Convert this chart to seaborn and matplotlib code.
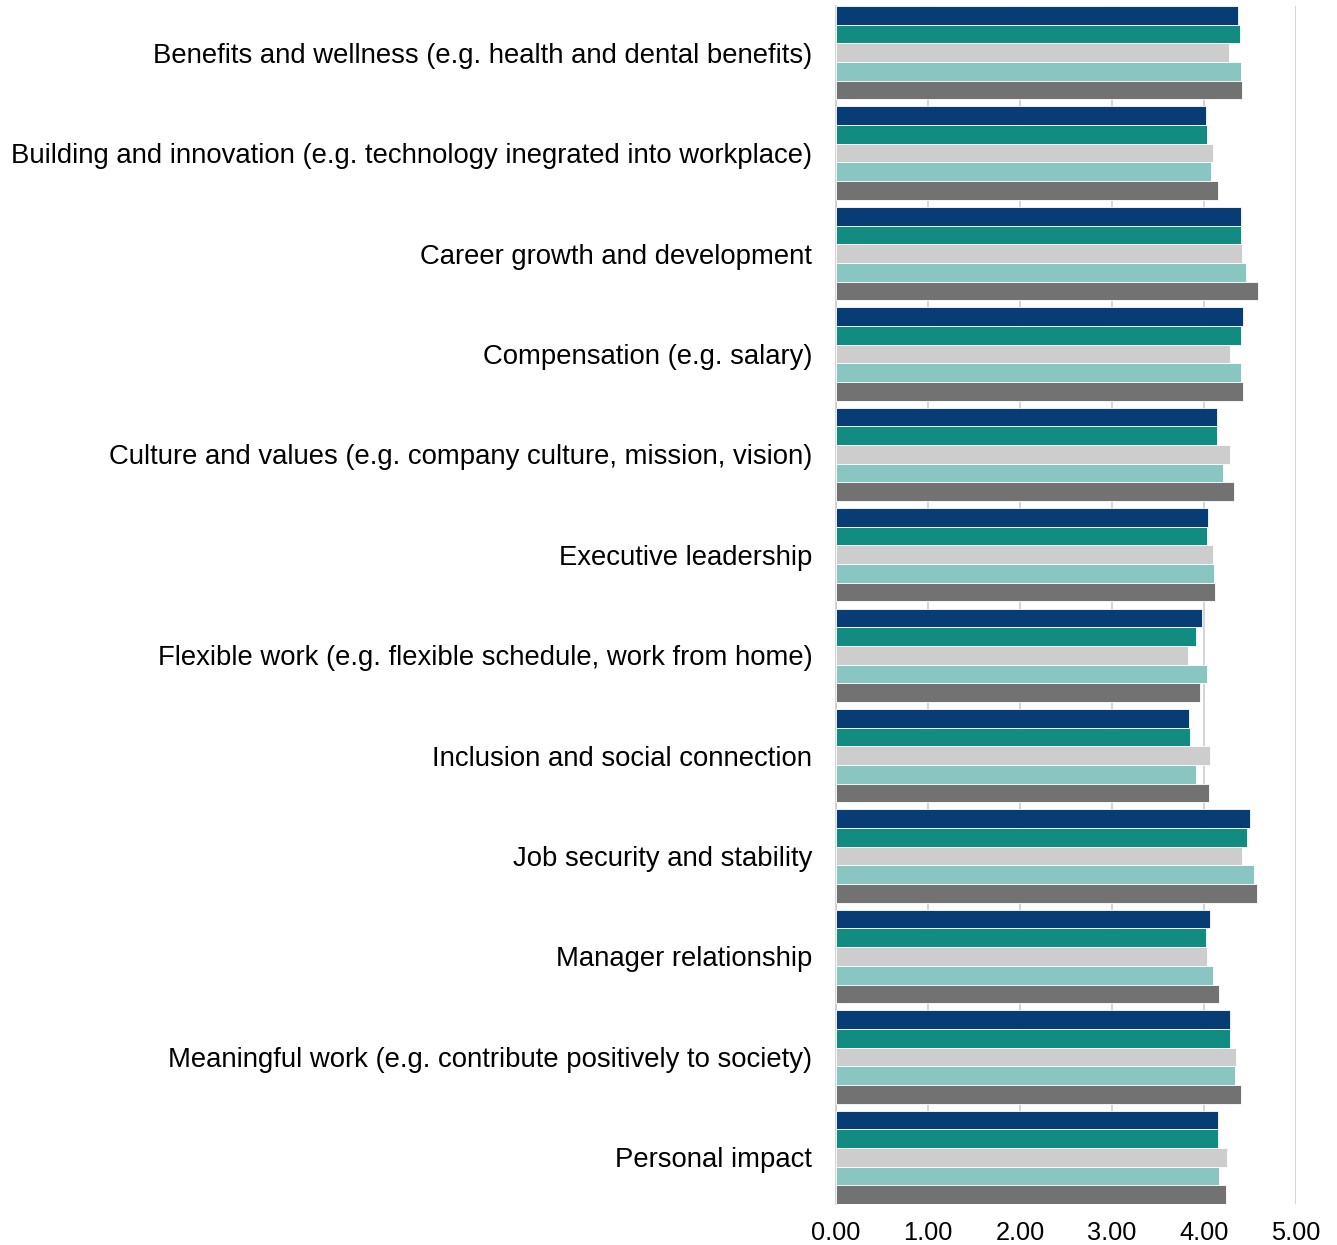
import matplotlib
matplotlib.use("Agg")
import matplotlib.pyplot as plt
import seaborn as sns
import pandas as pd

categories = [
    "Benefits and wellness (e.g. health and dental benefits)",
    "Building and innovation (e.g. technology inegrated into workplace)",
    "Career growth and development",
    "Compensation (e.g. salary)",
    "Culture and values (e.g. company culture, mission, vision)",
    "Executive leadership",
    "Flexible work (e.g. flexible schedule, work from home)",
    "Inclusion and social connection",
    "Job security and stability",
    "Manager relationship",
    "Meaningful work (e.g. contribute positively to society)",
    "Personal impact",
]

series_names = ["Series 1", "Series 2", "Series 3", "Series 4", "Series 5"]

series_1 = [4.37, 4.02, 4.41, 4.43, 4.14, 4.05, 3.98, 3.84, 4.50, 4.07, 4.29, 4.15]
series_2 = [4.39, 4.03, 4.40, 4.41, 4.14, 4.04, 3.92, 3.85, 4.47, 4.02, 4.29, 4.15]
series_3 = [4.28, 4.10, 4.42, 4.29, 4.29, 4.10, 3.83, 4.07, 4.42, 4.03, 4.35, 4.25]
series_4 = [4.40, 4.08, 4.46, 4.41, 4.21, 4.11, 4.04, 3.92, 4.55, 4.10, 4.34, 4.17]
series_5 = [4.42, 4.15, 4.59, 4.43, 4.33, 4.12, 3.96, 4.06, 4.58, 4.17, 4.40, 4.24]

x_ticks = [0, 1, 2, 3, 4, 5]
x_tick_labels = ["0.00", "1.00", "2.00", "3.00", "4.00", "5.00"]

palette = ["#083C74", "#128B80", "#CDCDCD", "#89C6C1", "#727272"]

rows = []
for name, vals in zip(series_names, [series_1, series_2, series_3, series_4, series_5]):
    for cat, v in zip(categories, vals):
        rows.append({"category": cat, "series": name, "score": v})
df = pd.DataFrame(rows)

sns.set_theme(style="white")
plt.rcParams["font.family"] = ["Liberation Sans", "DejaVu Sans"]

fig = plt.figure(figsize=(13.37, 12.45), dpi=100)
ax = fig.add_axes([0.6253, 0.0329, 0.9691 - 0.6253, 0.9952 - 0.0329])

bar_width = 0.93
sns.barplot(
    data=df, y="category", x="score", hue="series",
    order=categories, hue_order=series_names, palette=palette,
    saturation=1, orient="h", width=bar_width, dodge=True, errorbar=None,
    edgecolor="white", linewidth=0.6, legend=False, ax=ax, zorder=3,
)

ax.set_xlim(0, 5)
ax.set_ylim(len(categories) - 0.5 - (1 - bar_width) / 2, -0.5 + (1 - bar_width) / 2)
ax.set_xticks(x_ticks)
ax.set_xticklabels(x_tick_labels)
ax.xaxis.grid(True, color="#C9C9C9", linewidth=1.1, zorder=0)
ax.set_axisbelow(True)
ax.set_xlabel("")
ax.set_ylabel("")

for side in ["top", "right", "bottom"]:
    ax.spines[side].set_visible(False)
ax.spines["left"].set_color("#C9C9C9")
ax.spines["left"].set_linewidth(1.1)

ax.tick_params(axis="y", length=0, pad=17, labelsize=19.8, labelcolor="black")
ax.tick_params(axis="x", length=0, pad=12, labelsize=18.3, labelcolor="black")

fig.savefig("out.png", dpi=100)
